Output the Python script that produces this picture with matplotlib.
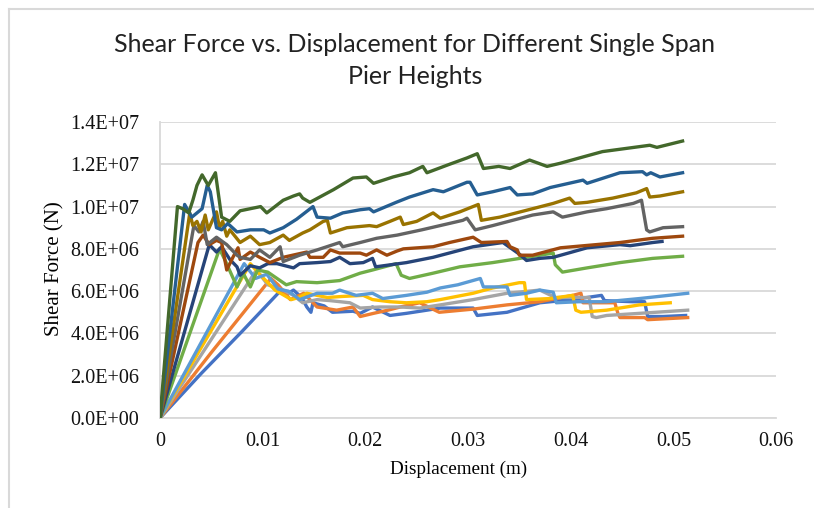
import matplotlib
matplotlib.use('Agg')
import matplotlib.pyplot as plt
from matplotlib.ticker import FuncFormatter, MultipleLocator
from matplotlib.lines import Line2D

# ---------------------------------------------------------------------------
# data: displacement (m) / shear force (MN), one pair of lists per pier height
# ---------------------------------------------------------------------------
s1_x = [0, 0.004, 0.008, 0.0117, 0.0125, 0.013, 0.0138, 0.0143, 0.0147, 0.0149, 0.016, 0.0168, 0.0188,
        0.0195, 0.0207, 0.0224, 0.024, 0.026, 0.0273, 0.0305, 0.0309, 0.0338, 0.037, 0.0402, 0.043,
        0.0433, 0.046, 0.0472, 0.0475, 0.049, 0.0512]
s1_y = [0, 2.1, 4.1, 6.0, 5.9, 6.05, 5.7, 5.25, 5.0, 5.45, 5.3, 5.0, 5.05,
        4.95, 5.25, 4.85, 4.95, 5.1, 5.2, 5.2, 4.85, 5.0, 5.45, 5.6, 5.8,
        5.55, 5.5, 5.5, 4.8, 4.8, 4.85]

s2_x = [0, 0.005, 0.0108, 0.0115, 0.0127, 0.014, 0.0153, 0.0172, 0.0188, 0.0195, 0.0208, 0.0222,
        0.0234, 0.0253, 0.0272, 0.0305, 0.0338, 0.037, 0.0402, 0.041, 0.0412, 0.0443, 0.0446,
        0.0448, 0.0472, 0.0475, 0.0514]
s2_y = [0, 3.1, 6.6, 6.3, 5.6, 5.9, 5.25, 5.1, 5.25, 4.8, 4.95, 5.1,
        5.25, 5.45, 5.0, 5.15, 5.35, 5.5, 5.8, 5.9, 5.45, 5.45, 4.95,
        4.75, 4.75, 4.65, 4.75]

s3_x = [0, 0.0094, 0.0105, 0.012, 0.013, 0.0139, 0.0153, 0.0166, 0.0185, 0.0195, 0.0214, 0.0234,
        0.0253, 0.0273, 0.0305, 0.0338, 0.037, 0.0385, 0.0418, 0.0421, 0.0425, 0.0435, 0.0467, 0.0514]
s3_y = [0, 7.0, 6.3, 6.05, 5.8, 5.45, 5.6, 5.55, 5.45, 5.2, 5.25, 5.25,
        5.2, 5.35, 5.6, 5.9, 6.05, 5.7, 5.7, 4.8, 4.75, 4.85, 4.95, 5.1]

s4_x = [0, 0.0088, 0.0096, 0.0112, 0.0128, 0.0135, 0.0143, 0.0163, 0.0178, 0.0198, 0.0207, 0.0224,
        0.024, 0.026, 0.0273, 0.0305, 0.0324, 0.035, 0.0355, 0.0357, 0.038, 0.0402, 0.0405, 0.041,
        0.0435, 0.0467, 0.0497]
s4_y = [0, 7.3, 6.85, 6.05, 5.6, 5.7, 5.9, 5.7, 5.75, 5.8, 5.6, 5.5,
        5.45, 5.5, 5.6, 5.9, 6.15, 6.4, 6.4, 5.6, 5.65, 5.8, 5.1, 5.0,
        5.1, 5.35, 5.45]

s5_x = [0, 0.0082, 0.0093, 0.0104, 0.0115, 0.0125, 0.0136, 0.0153, 0.0168, 0.0175, 0.0191, 0.0207,
        0.0217, 0.024, 0.026, 0.0273, 0.029, 0.0312, 0.0315, 0.0338, 0.0341, 0.0357, 0.037, 0.0383,
        0.0386, 0.0408, 0.0435, 0.0467, 0.0514]
s5_y = [0, 7.3, 6.6, 6.8, 6.1, 6.0, 5.6, 5.9, 5.9, 6.05, 5.8, 5.9,
        5.65, 5.8, 5.95, 6.15, 6.3, 6.6, 6.2, 6.2, 5.8, 5.9, 6.05, 5.95,
        5.45, 5.5, 5.5, 5.65, 5.9]

s6_x = [0, 0.0058, 0.0064, 0.0075, 0.0081, 0.0088, 0.0095, 0.0105, 0.0117, 0.0123, 0.0133, 0.0153,
        0.0175, 0.0195, 0.0207, 0.023, 0.0235, 0.0243, 0.0266, 0.0292, 0.0324, 0.0344, 0.0383,
        0.0385, 0.0392, 0.0416, 0.0448, 0.048, 0.0509]
s6_y = [0, 8.0, 7.4, 6.2, 6.85, 6.2, 7.0, 6.9, 6.5, 6.3, 6.45, 6.4,
        6.5, 6.85, 7.0, 7.3, 6.75, 6.6, 6.85, 7.15, 7.35, 7.5, 7.8,
        7.25, 6.9, 7.1, 7.35, 7.55, 7.65]

s7_x = [0, 0.0048, 0.0055, 0.006, 0.0068, 0.0075, 0.0078, 0.0088, 0.0097, 0.0105, 0.0114, 0.013,
        0.0136, 0.0153, 0.0166, 0.0175, 0.0185, 0.0198, 0.0207, 0.021, 0.024, 0.0266, 0.0305,
        0.0334, 0.035, 0.0357, 0.037, 0.0383, 0.0416, 0.0448, 0.0458, 0.048, 0.0489]
s7_y = [0, 8.2, 7.85, 8.1, 7.5, 7.15, 6.75, 7.2, 7.1, 7.3, 7.3, 7.1,
        7.3, 7.35, 7.4, 7.6, 7.3, 7.35, 7.55, 7.15, 7.35, 7.6, 8.1,
        8.3, 7.75, 7.45, 7.55, 7.6, 8.05, 8.2, 8.15, 8.3, 8.35]

s8_x = [0, 0.0037, 0.0042, 0.0048, 0.0055, 0.006, 0.0065, 0.0071, 0.0076, 0.0078, 0.0088, 0.0097,
        0.0107, 0.012, 0.0143, 0.0146, 0.0159, 0.0166, 0.0175, 0.0195, 0.0201, 0.0211, 0.0221,
        0.0231, 0.0237, 0.0266, 0.0282, 0.0305, 0.0313, 0.0338, 0.0341, 0.0348, 0.035, 0.0363,
        0.039, 0.0448, 0.048, 0.0509]
s8_y = [0, 8.3, 8.65, 8.2, 8.4, 8.3, 7.0, 7.6, 8.05, 7.5, 7.85, 7.6,
        7.35, 7.6, 7.85, 7.6, 7.6, 7.95, 7.8, 7.8, 7.7, 7.95, 7.7,
        7.9, 8.0, 8.1, 8.3, 8.55, 8.3, 8.35, 8.1, 7.95, 7.7, 7.7,
        8.05, 8.3, 8.5, 8.6]

s9_x = [0, 0.0033, 0.0038, 0.0042, 0.0046, 0.0055, 0.0065, 0.0075, 0.0078, 0.0088, 0.0097, 0.0107,
        0.0117, 0.012, 0.0136, 0.0153, 0.0175, 0.0178, 0.0195, 0.0211, 0.0231, 0.0255, 0.0295,
        0.0299, 0.0307, 0.0324, 0.0363, 0.0383, 0.0392, 0.0416, 0.0435, 0.0461, 0.0469, 0.0474,
        0.0477, 0.049, 0.0509]
s9_y = [0, 9.1, 8.8, 9.3, 8.2, 8.55, 8.2, 7.7, 7.6, 7.5, 7.95, 7.6,
        8.1, 7.4, 7.7, 7.95, 8.3, 8.1, 8.3, 8.5, 8.65, 8.9, 9.35,
        9.45, 8.9, 9.1, 9.6, 9.75, 9.5, 9.75, 9.9, 10.15, 10.3, 8.9,
        8.8, 9.0, 9.05]

s10_x = [0, 0.0029, 0.0032, 0.0036, 0.004, 0.0044, 0.0047, 0.0052, 0.0055, 0.0058, 0.0061, 0.0065,
         0.0068, 0.0078, 0.0088, 0.0097, 0.0107, 0.012, 0.0126, 0.0139, 0.0146, 0.0159, 0.0163,
         0.0166, 0.0182, 0.0204, 0.0211, 0.0224, 0.0234, 0.0237, 0.025, 0.0266, 0.0273, 0.0292,
         0.031, 0.0313, 0.0331, 0.0363, 0.0383, 0.0399, 0.0404, 0.0416, 0.0441, 0.0464, 0.0474,
         0.0477, 0.0487, 0.0509]
s10_y = [0, 9.7, 9.1, 9.3, 8.8, 9.6, 8.9, 9.45, 9.75, 9.0, 9.3, 8.6,
         8.9, 8.3, 8.6, 8.2, 8.3, 8.65, 8.4, 8.75, 8.9, 9.3, 9.35,
         8.75, 9.0, 9.1, 9.05, 9.3, 9.5, 9.15, 9.3, 9.7, 9.45, 9.75,
         10.1, 9.35, 9.5, 9.9, 10.15, 10.4, 10.15, 10.2, 10.4, 10.65, 10.85,
         10.45, 10.5, 10.7]

s11_x = [0, 0.0024, 0.0031, 0.0036, 0.0041, 0.0046, 0.0049, 0.0055, 0.006, 0.0066, 0.0075, 0.0088,
         0.0101, 0.0107, 0.012, 0.0133, 0.0149, 0.0153, 0.0166, 0.0178, 0.0195, 0.0204, 0.0208,
         0.023, 0.0243, 0.0266, 0.0276, 0.0299, 0.0302, 0.0309, 0.0324, 0.0341, 0.0348, 0.0363,
         0.038, 0.0412, 0.0416, 0.0448, 0.047, 0.0474, 0.0478, 0.0487, 0.0509]
s11_y = [0, 10.1, 9.5, 9.7, 9.9, 11.0, 10.7, 9.0, 8.9, 9.2, 8.8, 8.9,
         8.9, 8.75, 9.0, 9.4, 10.0, 9.5, 9.45, 9.7, 9.85, 9.9, 9.75,
         10.2, 10.45, 10.8, 10.7, 11.15, 11.15, 10.55, 10.7, 10.9, 10.55, 10.6,
         10.9, 11.25, 11.1, 11.6, 11.65, 11.5, 11.6, 11.4, 11.6]

s12_x = [0, 0.0017, 0.0022, 0.0028, 0.0032, 0.0036, 0.0041, 0.0047, 0.0054, 0.006, 0.0068, 0.0078,
         0.0088, 0.0098, 0.0104, 0.012, 0.013, 0.0136, 0.0139, 0.0146, 0.0169, 0.0188, 0.0201,
         0.0208, 0.0227, 0.0243, 0.0256, 0.026, 0.0282, 0.0299, 0.0309, 0.0315, 0.033, 0.0341,
         0.036, 0.0377, 0.039, 0.0416, 0.0431, 0.0477, 0.0484, 0.0509]
s12_y = [0, 10.0, 9.9, 9.7, 10.3, 11.0, 11.5, 11.0, 11.6, 9.5, 9.3, 9.8,
         9.9, 10.0, 9.7, 10.3, 10.5, 10.6, 10.4, 10.2, 10.8, 11.35, 11.4,
         11.1, 11.4, 11.6, 11.9, 11.6, 12.0, 12.3, 12.5, 11.8, 11.9, 11.8,
         12.2, 11.9, 12.05, 12.4, 12.6, 12.9, 12.8, 13.1]

SERIES_X = [s1_x, s2_x, s3_x, s4_x, s5_x, s6_x, s7_x, s8_x, s9_x, s10_x, s11_x, s12_x]
SERIES_Y = [s1_y, s2_y, s3_y, s4_y, s5_y, s6_y, s7_y, s8_y, s9_y, s10_y, s11_y, s12_y]

# Excel office palette
COLORS = ['#4472C4', '#ED7D31', '#A5A5A5', '#FFC000', '#5B9BD5', '#70AD47',
          '#264478', '#9E480E', '#636363', '#997300', '#255E91', '#43682B']
GRID = '#D9D9D9'

fig = plt.figure(figsize=(8.14, 5.08), dpi=100)
ax = fig.add_axes([160 / 814, 1 - 418 / 508, 616 / 814, 296 / 508])

# chart area border (left / top edges visible in the crop)
fig.add_artist(Line2D([9 / 814, 9 / 814], [0, 1 - 9 / 508], transform=fig.transFigure,
                      color=GRID, lw=1.5))
fig.add_artist(Line2D([9 / 814, 1], [1 - 9 / 508, 1 - 9 / 508], transform=fig.transFigure,
                      color=GRID, lw=1.5))

for xs, ys, c in zip(SERIES_X, SERIES_Y, COLORS):
    ax.plot(xs, [v * 1e6 for v in ys], color=c, lw=2.4, solid_joinstyle='round', zorder=3)

ax.set_xlim(0, 0.06)
ax.set_ylim(0, 1.4e7)
ax.xaxis.set_major_locator(MultipleLocator(0.01))
ax.yaxis.set_major_locator(MultipleLocator(2e6))
ax.xaxis.set_major_formatter(FuncFormatter(lambda v, p: '0' if abs(v) < 1e-12 else f'{v:.2f}'))
ax.yaxis.set_major_formatter(FuncFormatter(lambda v, p: f'{v:.1E}'))
ax.grid(axis='y', color=GRID, lw=1.3, zorder=0)
ax.set_axisbelow(True)
for side in ['top', 'right']:
    ax.spines[side].set_visible(False)
for side in ['left', 'bottom']:
    ax.spines[side].set_color(GRID)
    ax.spines[side].set_linewidth(1.3)
ax.tick_params(axis='y', length=0, labelsize=14.5, pad=15)
ax.tick_params(axis='x', length=0, labelsize=14.5, pad=10)
for lab in ax.get_xticklabels() + ax.get_yticklabels():
    lab.set_fontfamily('Liberation Serif')
    lab.set_color('#111111')

ax.set_xlabel('Displacement (m)', fontsize=13.8, fontfamily='Liberation Serif')
ax.xaxis.set_label_coords(0.484, -0.145)
ax.set_ylabel('Shear Force (N)', fontsize=15, fontfamily='Liberation Serif')
ax.yaxis.set_label_coords(-0.155, 0.505)

fig.text(415 / 814, 1 - 45 / 508, 'Shear Force vs. Displacement for Different Single Span',
         ha='center', va='center', fontsize=18, fontfamily='Lato', color='#222222')
fig.text(415 / 814, 1 - 77 / 508, 'Pier Heights',
         ha='center', va='center', fontsize=18, fontfamily='Lato', color='#222222')

fig.savefig('out.png', dpi=100, facecolor='white')
